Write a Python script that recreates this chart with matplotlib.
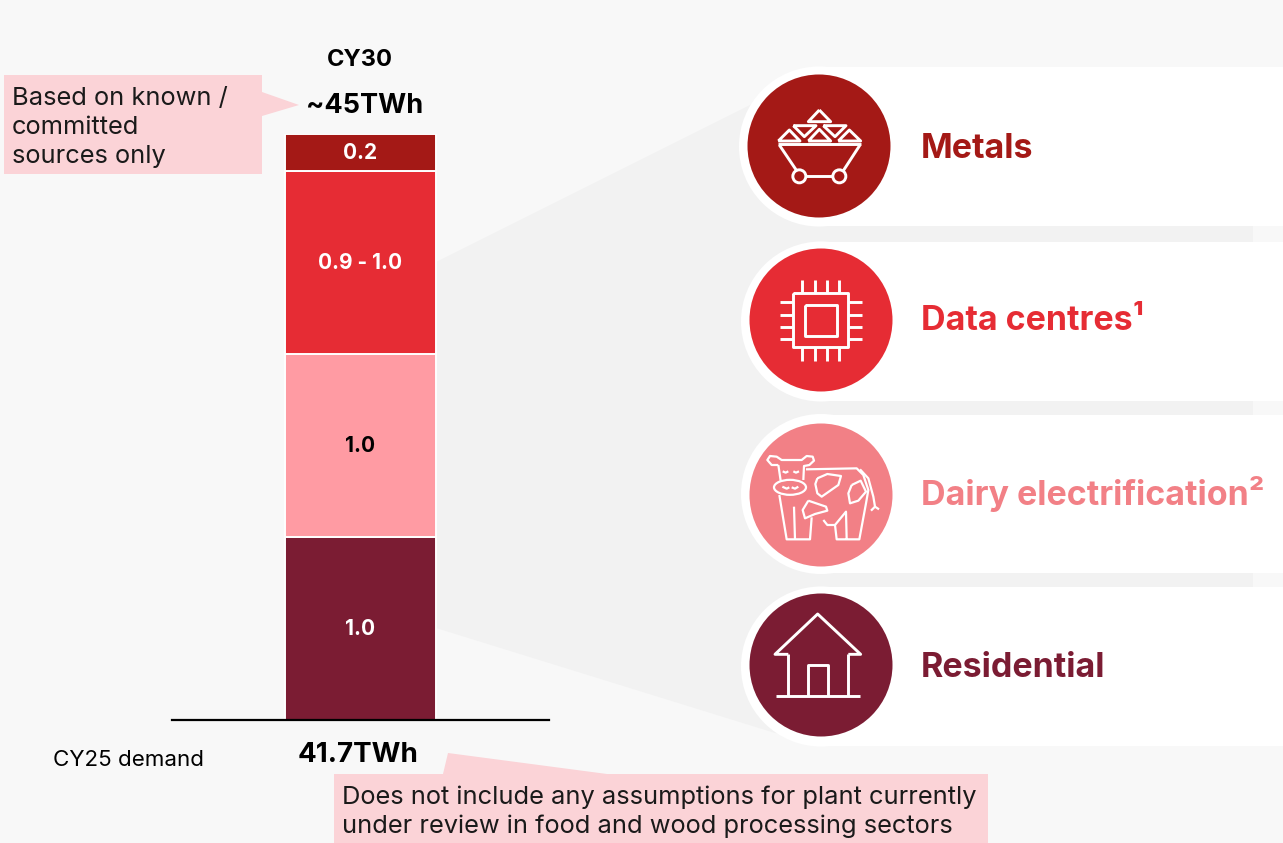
import matplotlib
matplotlib.use("Agg")
import matplotlib.pyplot as plt
from matplotlib.patches import Circle, Ellipse, Polygon, Rectangle

W, H = 1283, 843

# stacked bar, bottom to top
segments = ["Residential", "Dairy electrification", "Data centres", "Metals"]
values = [1.0, 1.0, 1.0, 0.2]
value_labels = ["1.0", "1.0", "0.9 - 1.0", "0.2"]
colors = ["#7B1C33", "#FF9BA3", "#E62C34", "#A41916"]
label_colors = ["white", "black", "white", "white"]

card_titles = ["Metals", "Data centres\u00b9", "Dairy electrification\u00b2", "Residential"]
card_colors = ["#A41916", "#E62C34", "#F28086", "#7B1C33"]

plt.rcParams["font.family"] = ["Inter", "DejaVu Sans"]

fig = plt.figure(figsize=(W / 100, H / 100), dpi=100, facecolor="#F8F8F8")
bg = fig.add_axes([0, 0, 1, 1])
bg.set_xlim(0, W)
bg.set_ylim(H, 0)
bg.axis("off")


def line(pts, ox, oy, lw=2.1, color="white"):
    xs = [ox + p[0] / 3 for p in pts]
    ys = [oy + p[1] / 3 for p in pts]
    bg.plot(xs, ys, color=color, lw=lw, solid_joinstyle="round", solid_capstyle="butt", zorder=6)


# grey funnel behind the cards
bg.add_patch(Polygon([(436, 262), (770, 95), (1253, 95), (1253, 740), (775, 733), (436, 628)],
                     fc="#F2F2F2", ec="none", zorder=1))

# cards
card_tops = [67, 242, 415, 587]
card_bottoms = [226, 401, 573, 746]
circle_x = [819, 821, 821, 821]
circle_y = [146, 320, 495, 665]
text_x = [921, 921, 921, 921]
text_y = [149, 321, 494, 668]
for i in range(4):
    bg.add_patch(Rectangle((circle_x[i], card_tops[i]), W - circle_x[i], card_bottoms[i] - card_tops[i],
                           fc="white", ec="none", zorder=2))
    bg.add_patch(Circle((circle_x[i], (card_tops[i] + card_bottoms[i]) / 2), 80, fc="white", ec="none", zorder=3))
    bg.add_patch(Circle((circle_x[i], circle_y[i]), 71.5, fc=card_colors[i], ec="none", zorder=4))
    bg.text(text_x[i], text_y[i], card_titles[i], color=card_colors[i], fontsize=24.5, fontweight="bold",
            ha="left", va="center", zorder=6)

# metals icon
ox, oy = 740, 60
line([(115, 253), (362, 253)], ox, oy)
line([(118, 255), (170, 332)], ox, oy)
line([(360, 255), (310, 332)], ox, oy)
line([(198, 349), (278, 349)], ox, oy)
for cx in [178, 298]:
    bg.add_patch(Circle((ox + cx / 3, oy + 349 / 3), 6.5, fc="none", ec="white", lw=2.1, zorder=6))
tris = [[(238, 150), (205, 185), (272, 185)], [(115, 243), (148, 210), (180, 243)],
        [(160, 197), (228, 197), (193, 230)], [(205, 243), (238, 208), (272, 243)],
        [(250, 197), (318, 197), (285, 230)], [(295, 243), (328, 210), (362, 243)]]
for t in tris:
    line(t + [t[0]], ox, oy)

# chip icon
line([(160, 700), (325, 700), (325, 860), (160, 860), (160, 700)], ox, oy)
line([(195, 735), (290, 735), (290, 828), (195, 828), (195, 735)], ox, oy)
for px in [187, 224, 261, 298]:
    line([(px, 660), (px, 700)], ox, oy)
    line([(px, 860), (px, 903)], ox, oy)
for py in [727, 765, 801, 838]:
    line([(120, py), (160, py)], ox, oy)
    line([(325, py), (365, py)], ox, oy)

# cow icon
ox, oy = 740, 410
cow = 1.6
line([(115, 165), (95, 165), (82, 150), (90, 138), (110, 140), (125, 150), (185, 150),
      (200, 138), (218, 140), (222, 152), (208, 165), (192, 168), (190, 210)], ox, oy, cow)
line([(115, 165), (122, 212)], ox, oy, cow)
bg.add_patch(Ellipse((ox + 150 / 3, oy + 232 / 3), 32, 15, fc="none", ec="white", lw=cow, zorder=6))
line([(128, 184), (137, 188), (145, 184)], ox, oy, cow)
line([(160, 184), (168, 188), (177, 184)], ox, oy, cow)
line([(127, 230), (140, 236), (148, 232)], ox, oy, cow)
line([(155, 232), (165, 236), (175, 230)], ox, oy, cow)
line([(198, 178), (350, 175), (370, 195), (385, 240), (378, 280), (358, 388), (290, 388),
      (285, 345), (318, 305), (320, 388)], ox, oy, cow)
line([(118, 255), (140, 388), (210, 388), (215, 322)], ox, oy, cow)
line([(162, 290), (165, 388)], ox, oy, cow)
line([(232, 205), (262, 192), (303, 198), (295, 225), (245, 260), (232, 250), (226, 222), (232, 205)], ox, oy, cow)
line([(335, 225), (362, 212), (378, 245), (355, 272), (330, 280), (325, 250), (335, 225)], ox, oy, cow)
line([(205, 272), (258, 290), (262, 302), (225, 312), (195, 325), (188, 300), (205, 272)], ox, oy, cow)
line([(250, 330), (262, 345), (285, 345)], ox, oy, cow)
line([(360, 178), (385, 205), (400, 260), (405, 290), (393, 302)], ox, oy, cow)
line([(405, 290), (417, 298)], ox, oy, cow)

# house icon
line([(145, 733), (105, 733), (233, 612), (362, 733), (325, 733)], ox, oy)
line([(145, 733), (145, 858)], ox, oy)
line([(325, 733), (325, 858)], ox, oy)
line([(108, 858), (360, 858)], ox, oy)
line([(203, 858), (203, 765), (265, 765), (265, 858)], ox, oy)

# callouts
pink = "#FBD3D7"
bg.add_patch(Polygon([(4, 75), (262, 75), (262, 92), (299, 105), (262, 116), (262, 174), (4, 174)],
                     fc=pink, ec="none", zorder=2))
for y, s in zip([98, 127, 156], ["Based on known /", "committed", "sources only"]):
    bg.text(12, y, s, fontsize=18.3, color="#1A1A1A", va="center", zorder=6)
bg.add_patch(Polygon([(334, 774), (443, 774), (448, 753), (607, 774), (988, 774), (988, 843), (334, 843)],
                     fc=pink, ec="none", zorder=2))
for y, s in zip([797, 826], ["Does not include any assumptions for plant currently",
                             "under review in food and wood processing sectors"]):
    bg.text(342, y, s, fontsize=18.3, color="#1A1A1A", va="center", zorder=6)

bg.text(360, 60, "CY30", fontsize=17, fontweight="bold", color="black", ha="center", va="center")
bg.text(365, 106, "~45TWh", fontsize=19.5, fontweight="bold", color="black", ha="center", va="center")
bg.text(358, 755, "41.7TWh", fontsize=20, fontweight="bold", color="black", ha="center", va="center")
bg.text(53, 760, "CY25 demand", fontsize=16.1, color="black", va="center")

# bar chart on its own axes, baseline at y=720, top at y=134
ax = fig.add_axes([172 / W, 1 - 720 / H, 377 / W, 586 / H])
ax.patch.set_alpha(0)
ax.set_xlim(-1, 1)
ax.set_ylim(0, sum(values))
for s in ["top", "left", "right"]:
    ax.spines[s].set_visible(False)
ax.spines["bottom"].set_linewidth(1.6)
ax.spines["bottom"].set_color("black")
ax.set_xticks([])
ax.set_yticks([])
bottom = 0
for i in range(len(values)):
    ax.bar(0, values[i], width=0.8, bottom=bottom, color=colors[i], edgecolor="white", linewidth=1.4)
    ax.text(0, bottom + values[i] / 2 - 0.005, value_labels[i], color=label_colors[i], fontsize=15,
            fontweight="bold", ha="center", va="center")
    bottom += values[i]

fig.savefig("out.png", dpi=100, facecolor=fig.get_facecolor())
